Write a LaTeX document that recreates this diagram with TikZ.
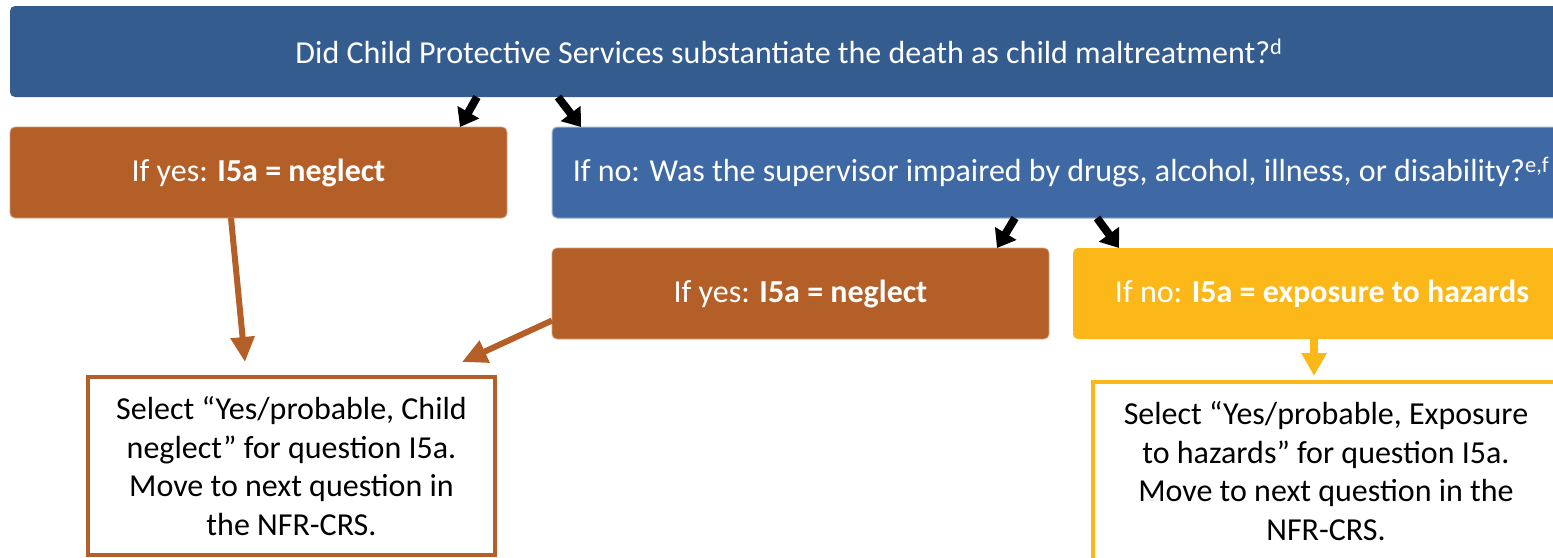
\documentclass[tikz,border=0pt]{standalone}
\usepackage{fontspec}
\setmainfont{Carlito}
\usepackage{xcolor}
\usepackage{tikz}
\usetikzlibrary{positioning, calc, arrows.meta}
\definecolor{topblue}{RGB}{52,92,142}
\definecolor{midblue}{RGB}{63,105,165}
\definecolor{rust}{RGB}{180,95,40}
\definecolor{amber}{RGB}{251,184,24}

\tikzset{
	flowbox/.style={rectangle, rounded corners=5pt, anchor=north west, outer sep=0pt, inner sep=0pt, text=white, font=\fontsize{32}{38}\selectfont, minimum height=91pt},
	endbox/.style={rectangle, anchor=north west, outer sep=0pt, inner sep=0pt, line width=3.5pt, fill=white, align=center, font=\fontsize{32}{38.5}\selectfont, minimum height=178pt},
	blkarrow/.style={line width=8pt, -{Triangle[length=17pt,width=24pt]}},
	rustarrow/.style={rust, line width=6pt, -{Triangle[length=25pt,width=23pt]}},
	amberarrow/.style={amber, line width=8pt, -{Triangle[length=23pt,width=24pt]}}
}

\begin{document}
\begin{tikzpicture}[x=1pt, y=-1pt]
	\useasboundingbox (0,0) rectangle (1553,557);
	\clip (0,0) rectangle (1553,557);
	\node[flowbox, fill=topblue, minimum width=1558pt] (subst) at (10,6) {Did Child Protective Services substantiate the death as child maltreatment?\textsuperscript{d}};
	\node[flowbox, fill=rust, draw=rust!60!white, line width=0.8pt, minimum width=497pt] (yesneg) at (10,127) {If yes: \textbf{I5a = neglect}};
	\node[flowbox, fill=midblue, draw=midblue!50!white, line width=1pt, minimum width=1018pt] (impair) at (552,127) {If no: Was the supervisor impaired by drugs, alcohol, illness, or disability?\textsuperscript{e,f}};
	\node[flowbox, fill=rust, draw=rust!60!white, line width=0.8pt, minimum width=497pt] (yesimp) at (552,248) {If yes: \textbf{I5a = neglect}};
	\node[flowbox, fill=amber, minimum width=498pt] (hazard) at (1073,248) {If no: \textbf{I5a = exposure to hazards}};
	\node[endbox, draw=rust, minimum width=407pt] (neglsel) at (88,377) {Select “Yes/probable, Child\\neglect” for question I5a.\\Move to next question in\\the NFR-CRS.};
	\node[endbox, draw=amber, minimum width=466pt] (hazsel) at (1093,382) {Select “Yes/probable, Exposure\\to hazards” for question I5a.\\Move to next question in the\\NFR-CRS.};

	\draw[blkarrow] ([xshift=467pt]subst.south west) -- ([xshift=-47pt]yesneg.north east);
	\draw[blkarrow] ([xshift=548pt]subst.south west) -- ([xshift=29pt]impair.north west);
	\draw[blkarrow] ([xshift=463pt]impair.south west) -- ([xshift=-52pt]yesimp.north east);
	\draw[blkarrow] ([xshift=545pt]impair.south west) -- ([xshift=46pt]hazard.north west);
	\draw[rustarrow] ([xshift=221pt]yesneg.south west) -- ([xshift=157pt,yshift=15pt]neglsel.north west);
	\draw[rustarrow] ([yshift=-27pt]yesimp.west) -- ([xshift=-33pt,yshift=15pt]neglsel.north east);
	\draw[amberarrow] ([xshift=241pt]hazard.south west) -- ([xshift=221pt,yshift=6pt]hazsel.north west);
\end{tikzpicture}
\end{document}
